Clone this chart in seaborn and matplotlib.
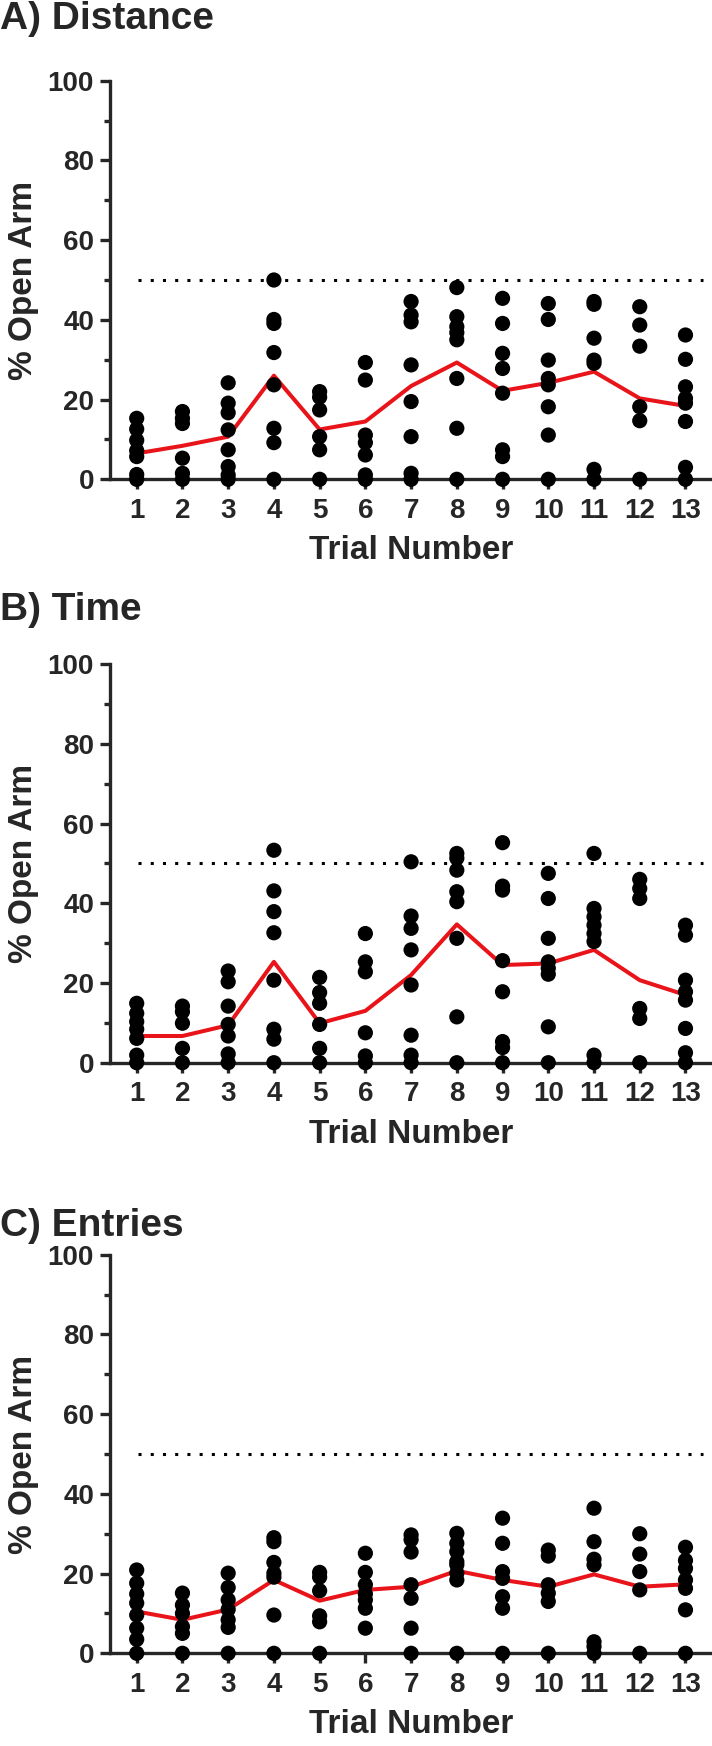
import pandas as pd
import seaborn as sns
import matplotlib.pyplot as plt

trials = list(range(1, 14))

distance_points = [
    [15.3, 12.6, 9.8, 7.2, 5.7, 1.2, 0],
    [17.0, 15.3, 14.0, 5.3, 1.5, 0],
    [24.2, 19.1, 16.7, 12.4, 7.4, 3.2, 1.1, 0],
    [50.0, 40.1, 39.1, 31.8, 23.7, 12.8, 9.2, 0],
    [22.0, 20.6, 17.4, 10.7, 7.4, 0],
    [29.3, 24.9, 11.1, 9.2, 6.1, 1.1, 0],
    [44.6, 41.2, 39.5, 28.7, 19.5, 10.7, 1.5, 0],
    [48.1, 40.8, 38.3, 36.8, 35.0, 25.3, 12.8, 0],
    [45.4, 39.1, 31.6, 27.8, 21.6, 7.4, 5.7, 0],
    [44.1, 40.1, 29.9, 25.3, 23.7, 18.2, 11.1, 0],
    [44.6, 43.9, 35.4, 29.9, 29.1, 2.5, 0],
    [43.3, 38.7, 33.4, 18.2, 14.7, 0],
    [36.2, 30.1, 23.2, 20.3, 19.1, 14.5, 3.0, 0],
]
distance_mean = [6.5, 8.4, 10.7, 26.0, 12.5, 14.5, 23.4, 29.3, 22.2, 24.2, 27.0, 20.3, 18.4]

time_points = [
    [14.9, 12.4, 10.3, 8.4, 6.1, 1.9, 0],
    [14.2, 12.8, 9.9, 3.6, 0],
    [23.0, 20.3, 14.2, 9.6, 6.7, 2.2, 0],
    [53.3, 43.1, 37.9, 32.6, 20.7, 8.4, 5.9, 0],
    [21.4, 17.6, 14.9, 9.6, 3.6, 0],
    [32.4, 25.3, 22.8, 7.5, 1.7, 0],
    [50.4, 36.8, 33.7, 28.3, 19.5, 6.9, 1.9, 0],
    [52.5, 51.3, 48.3, 42.9, 40.4, 31.2, 11.5, 0],
    [55.2, 44.3, 43.3, 25.6, 17.8, 5.3, 3.8, 0],
    [47.5, 41.2, 31.2, 25.3, 23.7, 22.2, 9.0, 0],
    [52.5, 38.7, 36.6, 34.5, 32.4, 30.4, 1.9, 0],
    [46.0, 43.7, 41.2, 13.6, 11.1, 0],
    [34.5, 32.0, 20.7, 17.8, 15.7, 8.6, 2.5, 0],
]
time_mean = [6.7, 6.7, 9.4, 25.3, 9.9, 13.0, 22.0, 34.7, 24.5, 24.9, 28.3, 20.7, 17.0]

entries_points = [
    [20.9, 17.6, 14.9, 12.6, 9.6, 6.3, 3.5, 0],
    [15.1, 12.1, 10.0, 6.7, 5.0, 0],
    [20.1, 16.5, 13.4, 11.0, 8.4, 6.5, 0],
    [29.0, 28.0, 22.8, 20.1, 19.1, 9.6, 0],
    [20.3, 19.1, 15.7, 9.4, 7.9, 0],
    [25.1, 20.3, 17.2, 14.9, 13.4, 11.3, 6.3],
    [29.7, 28.5, 25.4, 17.2, 13.8, 6.3, 0],
    [30.1, 27.6, 25.5, 23.0, 22.2, 20.1, 18.4, 0],
    [33.9, 27.6, 20.5, 18.8, 14.2, 11.3, 0],
    [25.9, 24.4, 17.2, 15.1, 13.0, 0],
    [36.4, 28.0, 23.6, 22.2, 2.9, 1.7, 0],
    [30.0, 24.9, 20.5, 15.9, 0],
    [26.6, 23.3, 21.3, 18.4, 16.3, 10.9, 0],
]
entries_mean = [10.5, 8.4, 11.0, 18.4, 13.2, 15.9, 16.7, 20.7, 18.4, 16.7, 19.8, 16.7, 17.3]

panel_titles = ["A) Distance", "B) Time", "C) Entries"]
chance_level = 50

sns.set_style("ticks")
plt.rcParams["font.family"] = ["Liberation Sans", "DejaVu Sans"]
plt.rcParams["font.weight"] = "bold"
plt.rcParams["axes.labelweight"] = "bold"


def long_table(points):
    rows = [(t, v) for t, vals in zip(trials, points) for v in vals]
    return pd.DataFrame(rows, columns=["trial", "pct"])


def draw_panel(ax, points, means):
    # dotted 50% chance line
    ax.axhline(chance_level, xmin=0.047, xmax=0.985, color="black",
               lw=2.2, ls=(0, (1, 3)), zorder=1)
    sns.lineplot(x=trials, y=means, ax=ax, color="#e8141a", lw=2.9,
                 estimator=None, zorder=2)
    sns.scatterplot(data=long_table(points), x="trial", y="pct", ax=ax,
                    color="black", s=120, edgecolor="none", linewidth=0,
                    clip_on=False, zorder=4)
    ax.set_xlim(0.416, 13.58)
    ax.set_ylim(0, 100)
    ax.set_xticks(trials)
    ax.set_yticks(range(0, 101, 20))
    ax.set_yticks(range(10, 100, 20), minor=True)
    ax.tick_params(axis="both", which="major", labelsize=20, width=2.4,
                   length=7.5, pad=4)
    ax.tick_params(axis="x", which="major", pad=6)
    ax.tick_params(axis="y", which="minor", width=2.4, length=4)
    ax.tick_params(axis="x", which="minor", bottom=False)
    for lbl in ax.get_xticklabels() + ax.get_yticklabels():
        lbl.set_fontweight("bold")
    ax.set_xlabel("Trial Number", fontsize=24, fontweight="bold", labelpad=8)
    ax.set_ylabel("% Open Arm", fontsize=24, fontweight="bold", labelpad=6)
    sns.despine(ax=ax)
    ax.spines["left"].set_linewidth(2.4)
    ax.spines["bottom"].set_linewidth(2.4)
    ax.spines["bottom"].set_zorder(3)


fig = plt.figure(figsize=(7.12, 17.46), dpi=100)
H = 1746.0
bottoms = [479.3, 1062.7, 1653.3]
title_y = [29, 620, 1236]
all_points = [distance_points, time_points, entries_points]
all_means = [distance_mean, time_mean, entries_mean]

for title, b, ty, pts, mns in zip(panel_titles, bottoms, title_y, all_points, all_means):
    ax = fig.add_axes([110 / 712, 1 - b / H, 602 / 712, 398.6 / H])
    draw_panel(ax, pts, mns)
    fig.text(0.0, 1 - ty / H, title, fontsize=28, fontweight="bold",
             ha="left", va="baseline")

fig.savefig("out.png", dpi=100)
